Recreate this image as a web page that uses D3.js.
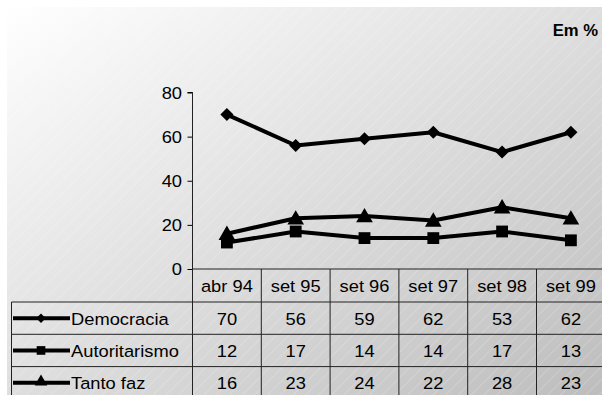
<!DOCTYPE html>
<html>
<head>
<meta charset="utf-8">
<script src="https://cdn.jsdelivr.net/npm/d3@7"></script>
<style>
  body { margin: 0; background: #fff; }
  text { font-family: "Liberation Sans", Arial, sans-serif; fill: #000; }
</style>
</head>
<body>
<div id="chart"></div>
<script>
// data
var categories = ["abr 94", "set 95", "set 96", "set 97", "set 98", "set 99"];
var democracia = [70, 56, 59, 62, 53, 62];
var autoritarismo = [12, 17, 14, 14, 17, 13];
var tantoFaz = [16, 23, 24, 22, 28, 23];
var seriesNames = ["Democracia", "Autoritarismo", "Tanto faz"];
var yTicks = [0, 20, 40, 60, 80];

var W = 602, H = 395;
var plotLeft = 192.5, colW = 68.8;
var rowTop = 269, headerH = 33, rowH = 32.3;

var svg = d3.select("#chart").append("svg")
    .attr("width", W)
    .attr("height", H);

var defs = svg.append("defs");
var grad = defs.append("linearGradient")
    .attr("id", "bg")
    .attr("x1", "0").attr("y1", "0")
    .attr("x2", "1").attr("y2", "1");
grad.append("stop").attr("offset", "0%").attr("stop-color", "#ffffff");
grad.append("stop").attr("offset", "100%").attr("stop-color", "#bdbdbd");

var pat = defs.append("pattern")
    .attr("id", "hatch")
    .attr("width", 9).attr("height", 9)
    .attr("patternUnits", "userSpaceOnUse")
    .attr("patternTransform", "rotate(45)");
pat.append("line")
    .attr("x1", 0).attr("y1", 0).attr("x2", 0).attr("y2", 9)
    .attr("stroke", "#fff").attr("stroke-width", 1).attr("stroke-opacity", 0.35);

svg.append("rect").attr("x", 7).attr("y", 7).attr("width", W - 7).attr("height", H - 7)
    .attr("fill", "url(#bg)");
svg.append("rect").attr("x", 7).attr("y", 7).attr("width", W - 7).attr("height", H - 7)
    .attr("fill", "url(#hatch)");

// scales
var x = d3.scaleBand()
    .domain(categories)
    .range([plotLeft, plotLeft + colW * categories.length])
    .padding(0);

var y = d3.scaleLinear()
    .domain([0, 80])
    .range([rowTop, 92.5]);

// text is a bit wider than Arial in the original
function stretchText(sel, tx, ty, str, anchor, size, weight, sx) {
  sel.append("text")
      .attr("transform", "translate(" + tx + "," + ty + ") scale(" + (sx || 1.11) + ",1)")
      .attr("text-anchor", anchor || "start")
      .style("font-size", (size || 16.5) + "px")
      .style("font-weight", weight || "normal")
      .text(str);
}

// y axis
var yAxis = svg.append("g")
    .attr("transform", "translate(" + plotLeft + ",0)")
    .call(d3.axisLeft(y).tickValues(yTicks).tickSize(5).tickFormat(""));
yAxis.select(".domain").attr("stroke", "#000").attr("d", "M-5," + y(80) + "H0V" + y(0));
yAxis.selectAll(".tick line").attr("stroke", "#000");

yTicks.forEach(function (t) {
  stretchText(svg, 182, y(t) + 6, String(t), "end");
});

// "Em %"
stretchText(svg, 598, 36, "Em %", "end", 16, "bold", 1.04);

// table grid
var tableRight = W + 5;
var grid = svg.append("g").attr("stroke", "#222").attr("stroke-width", 1).attr("fill", "none");
grid.append("line").attr("x1", plotLeft).attr("x2", tableRight).attr("y1", rowTop).attr("y2", rowTop);
for (var r = 0; r < 3; r++) {
  var yy = rowTop + headerH + r * rowH;
  grid.append("line").attr("x1", 11.5).attr("x2", tableRight).attr("y1", yy).attr("y2", yy);
}
grid.append("line").attr("x1", 11.5).attr("x2", 11.5).attr("y1", rowTop + headerH).attr("y2", H);
categories.forEach(function (c, i) {
  var xx = x(c);
  grid.append("line").attr("x1", xx).attr("x2", xx)
      .attr("y1", i === 0 ? y(80) : rowTop).attr("y2", H);
});

// header labels
categories.forEach(function (c) {
  stretchText(svg, x(c) + x.bandwidth() / 2, rowTop + 23, c, "middle");
});

// series and markers (diamond = rotated square)
var allSeries = [democracia, autoritarismo, tantoFaz];
var shapes = [d3.symbolSquare, d3.symbolSquare, d3.symbolTriangle];
var rot = [45, 0, 0];
var sizes = [85, 140, 120];
var legendSizes = [45, 75, 70];

var line = d3.line()
    .x(function (d, i) { return x(categories[i]) + x.bandwidth() / 2; })
    .y(function (d) { return y(d); });

allSeries.forEach(function (vals, s) {
  svg.append("path")
      .datum(vals)
      .attr("d", line)
      .attr("fill", "none")
      .attr("stroke", "#000")
      .attr("stroke-width", 4)
      .attr("stroke-linejoin", "round");

  svg.selectAll(".m" + s)
      .data(vals)
      .enter()
      .append("path")
      .attr("class", "m" + s)
      .attr("transform", function (d, i) {
        var dy = s === 2 ? 1.5 : 0;
        return "translate(" + (x(categories[i]) + x.bandwidth() / 2) + "," + (y(d) + dy) + ") rotate(" + rot[s] + ")";
      })
      .attr("d", d3.symbol().type(shapes[s]).size(sizes[s]))
      .attr("fill", "#000");

  // table row
  var cy = rowTop + headerH + s * rowH + rowH / 2;
  svg.append("line")
      .attr("x1", 13).attr("x2", 70)
      .attr("y1", cy).attr("y2", cy)
      .attr("stroke", "#000").attr("stroke-width", 4);
  svg.append("path")
      .attr("transform", "translate(41," + (cy + (s === 2 ? -1 : 0)) + ") rotate(" + rot[s] + ")")
      .attr("d", d3.symbol().type(shapes[s]).size(legendSizes[s]))
      .attr("fill", "#000");
  stretchText(svg, 71, cy + 6.5, seriesNames[s], "start");

  vals.forEach(function (v, i) {
    stretchText(svg, x(categories[i]) + x.bandwidth() / 2, cy + 6.5, String(v), "middle");
  });
});
</script>
</body>
</html>
